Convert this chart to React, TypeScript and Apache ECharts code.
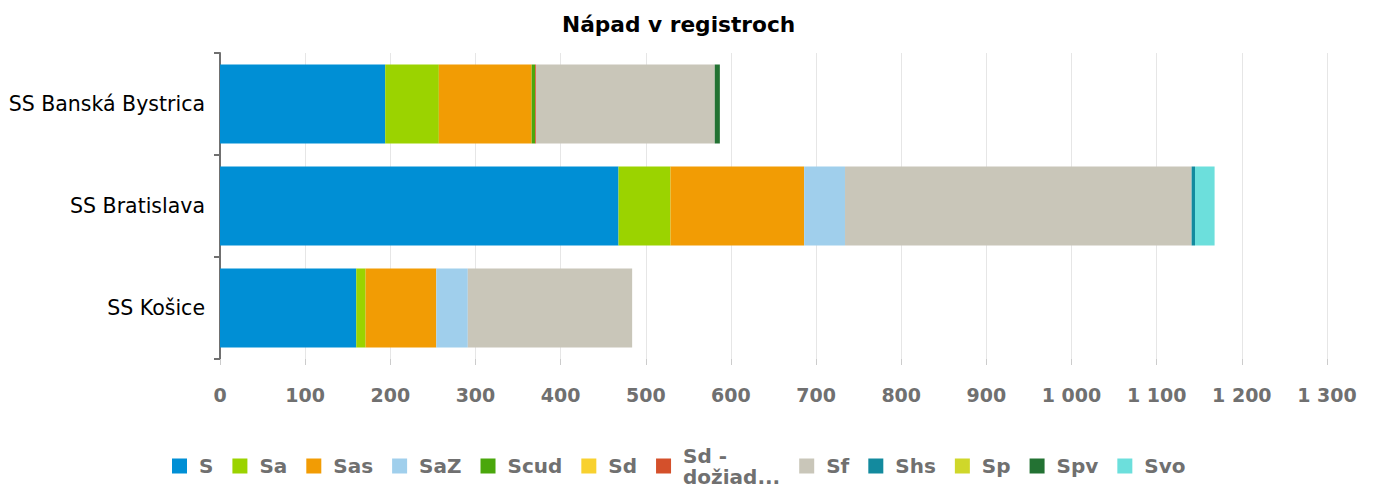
import React, { useEffect, useRef } from "react";
import * as echarts from "echarts";

const categories = ["SS Banská Bystrica", "SS Bratislava", "SS Košice"];
const seriesNames = ["S", "Sa", "Sas", "SaZ", "Scud", "Sd", "Sd - dožiad...", "Sf", "Shs", "Sp", "Spv", "Svo"];
const S = [194, 468, 160];
const Sa = [63, 61, 11];
const Sas = [109, 157, 83];
const SaZ = [0, 48, 37];
const Scud = [4, 0, 0];
const Sd = [0, 0, 0];
const SdDoziad = [1, 0, 0];
const Sf = [210, 407, 193];
const Shs = [0, 4, 0];
const Sp = [0, 0, 0];
const Spv = [6, 0, 0];
const Svo = [0, 23, 0];
const seriesValues = [S, Sa, Sas, SaZ, Scud, Sd, SdDoziad, Sf, Shs, Sp, Spv, Svo];
const colors = ["#008fd5", "#9bd300", "#f29c04", "#a0cfec", "#4aa70c", "#f8d12f", "#d4502b", "#c9c6b9", "#138a9e", "#cfd72a", "#237233", "#6cdfdc"];

const fmt = (v: number) => String(v).replace(/\B(?=(\d{3})+(?!\d))/g, " ");

export default function App() {
  const ref = useRef<HTMLDivElement>(null);
  useEffect(() => {
    if (!ref.current) return;
    const chart = echarts.init(ref.current, undefined, { renderer: "svg" });
    const font = "'DejaVu Sans', Verdana, sans-serif";
    chart.setOption({
      animation: false,
      color: colors,
      textStyle: { fontFamily: font },
      title: {
        text: "Nápad v registroch",
        left: 557,
        top: 8,
        textStyle: { fontSize: 21.7, fontWeight: "bold", color: "#000", fontFamily: font },
      },
      legend: {
        top: 445,
        left: 172,
        padding: 0,
        itemWidth: 15,
        itemHeight: 15,
        itemGap: 19,
        icon: "rect",
        data: seriesNames,
        formatter: (n: string) => (n === "Sd - dožiad..." ? "Sd -\ndožiad..." : n),
        textStyle: { fontSize: 20, fontWeight: "bold", color: "#707070", fontFamily: font, padding: [0, 0, 0, 7], lineHeight: 21 },
      },
      grid: { left: 220, right: 49, top: 53, bottom: 129 },
      xAxis: {
        type: "value",
        min: 0,
        max: 1300,
        interval: 100,
        axisLine: { show: false },
        axisTick: { show: true, length: 6, lineStyle: { color: "#cccccc" } },
        splitLine: { show: true, lineStyle: { color: "#e6e6e6", width: 1 } },
        axisLabel: { formatter: fmt, fontSize: 19, fontWeight: "bold", color: "#707070", margin: 26, fontFamily: font },
      },
      yAxis: {
        type: "category",
        inverse: true,
        data: categories,
        axisLine: { show: true, lineStyle: { color: "#707070", width: 2 } },
        axisTick: { show: true, length: 6, lineStyle: { color: "#707070", width: 2 } },
        axisLabel: { fontSize: 20.5, color: "#000", margin: 15, fontFamily: font },
      },
      series: seriesNames.map((name, i) => ({
        name,
        type: "bar",
        stack: "total",
        barWidth: 79,
        data: seriesValues[i],
        itemStyle: { color: colors[i] },
      })),
    });
    return () => chart.dispose();
  }, []);
  return <div ref={ref} style={{ position: "absolute", left: 0, top: 0, width: 1376, height: 488 }} />;
}
